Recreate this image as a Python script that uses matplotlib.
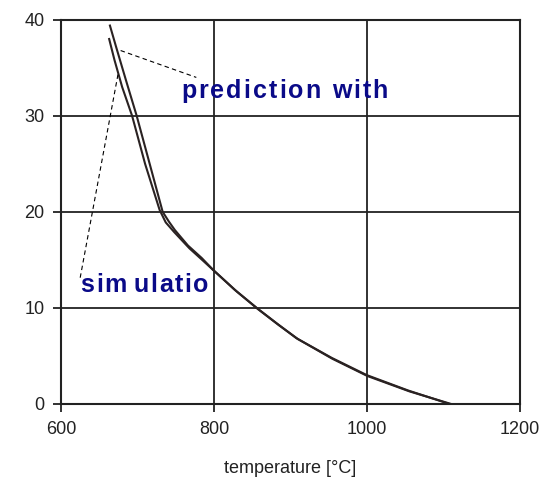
import numpy as np
import matplotlib
matplotlib.use('Agg')
import matplotlib.pyplot as plt
from matplotlib.textpath import TextToPath
from matplotlib.font_manager import FontProperties

plt.rcParams['font.family'] = ['Liberation Sans', 'DejaVu Sans']

# prediction curve
temp_pred = [664, 672, 685, 699, 716, 733, 741, 749, 766, 784, 799, 827, 856, 882, 908, 954, 1000, 1054, 1108]
val_pred = [39.4, 37.2, 33.7, 30, 25, 20, 19, 18.1, 16.5, 15.2, 13.96, 11.9, 10.0, 8.4, 6.84, 4.8, 3.0, 1.4, 0]
# simulation curve
temp_sim = [663, 670, 680, 693, 710, 729, 737, 748, 768, 786, 801, 830, 858, 885, 910, 955, 1001, 1056, 1110]
val_sim = [38.0, 35.8, 33.0, 30, 25, 20.2, 18.9, 17.9, 16.2, 14.9, 13.8, 11.7, 9.85, 8.2, 6.75, 4.7, 2.9, 1.3, 0]

xticks = [600, 800, 1000, 1200]
yticks = [0, 10, 20, 30, 40]

fig = plt.figure(figsize=(5.52, 4.95), dpi=100)
ax = fig.add_axes([0.1105, 0.184, 0.831, 0.776])

line_col = '#2a2222'
ax.plot(temp_pred, val_pred, color=line_col, lw=1.5)
ax.plot(temp_sim, val_sim, color=line_col, lw=1.5)

ax.set_xlim(600, 1200)
ax.set_ylim(0, 40)
ax.set_xticks(xticks)
ax.set_yticks(yticks)
ax.grid(True, color='#222222', lw=1.3)
ax.set_axisbelow(True)
for s in ax.spines.values():
    s.set_color('#222222')
    s.set_linewidth(1.5)
ax.tick_params(direction='out', length=6, width=1.3, color='#222222', labelsize=13, labelcolor='#222222', pad=6)
ax.set_xlabel('temperature [°C]', fontsize=13, color='#222222', labelpad=16)

# dashed leader lines
ax.plot([678, 777], [36.8, 34.0], color='black', lw=0.8, ls=(0, (4, 3)))
ax.plot([674.5, 625], [34.3, 13.1], color='black', lw=0.8, ls=(0, (4, 3)))


def spaced_text(x, y, s, size, gap, extra=None):
    # letter by letter, with extra spacing in points
    fp = FontProperties(family='Liberation Sans', weight='bold', size=size)
    ttp = TextToPath()
    extra = extra or {}
    off = 0.0
    for i, ch in enumerate(s):
        if ch != ' ':
            ax.annotate(ch, (x, y), xytext=(off, 0), textcoords='offset points',
                        fontproperties=fp, color='#0a0a88', va='baseline', ha='left')
            w = ttp.get_text_width_height_descent(ch, fp, ismath=False)[0]
        else:
            w = size * 0.278
        off += w + gap + extra.get(i, 0)


spaced_text(757, 31.85, 'prediction with', 18, 1.5)
spaced_text(625.5, 11.7, 'simulatio', 18, 1.2, extra={2: 3.5})

fig.savefig('out.png', dpi=100)
